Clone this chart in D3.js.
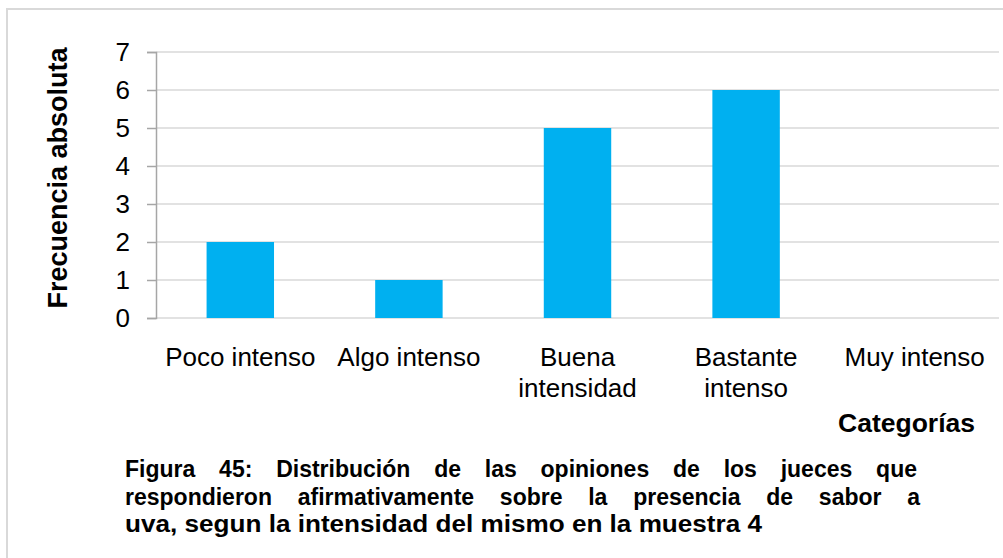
<!DOCTYPE html>
<html>
<head>
<meta charset="utf-8">
<script src="https://cdn.jsdelivr.net/npm/d3@7"></script>
<style>
  body { margin: 0; background: #fff; }
  svg { display: block; font-family: "Liberation Sans", Arial, sans-serif; }
</style>
</head>
<body>
<div class="chart"></div>
<script>
var w = 1003;
var h = 558;

// data
var categories = [["Poco intenso"], ["Algo intenso"], ["Buena", "intensidad"], ["Bastante", "intenso"], ["Muy intenso"]];
var values = [2, 1, 5, 6, 0];
var yTicks = [0, 1, 2, 3, 4, 5, 6, 7];
var titleLines = [
  "Figura 45: Distribución de las opiniones de los jueces que",
  "respondieron afirmativamente sobre la presencia de sabor a",
  "uva, segun la intensidad del mismo en la  muestra 4"
];

var plotLeft = 156, plotRight = 999, plotTop = 52, plotBottom = 318;

var svg = d3.select(".chart").append("svg")
  .attr("width", w)
  .attr("height", h);

// outer frame
svg.append("rect")
  .attr("x", 7).attr("y", 9)
  .attr("width", w + 20).attr("height", h + 20)
  .attr("fill", "none")
  .attr("stroke", "#d9d9d9")
  .attr("stroke-width", 2);

var xScale = d3.scaleBand()
  .domain(d3.range(categories.length))
  .range([plotLeft, plotRight])
  .paddingInner(0.6)
  .paddingOuter(0.3);

var yScale = d3.scaleLinear()
  .domain([0, 7])
  .range([plotBottom, plotTop]);

// gridlines
svg.selectAll("line.grid")
  .data(yTicks)
  .enter()
  .append("line")
  .attr("class", "grid")
  .attr("x1", plotLeft)
  .attr("x2", plotRight)
  .attr("y1", function(d) { return yScale(d); })
  .attr("y2", function(d) { return yScale(d); })
  .attr("stroke", "#d9d9d9")
  .attr("stroke-width", 1.5);

// y axis
var yAxis = d3.axisLeft(yScale)
  .tickValues(yTicks)
  .tickSize(9)
  .tickPadding(17)
  .tickFormat(d3.format("d"));

var yG = svg.append("g")
  .attr("transform", "translate(" + plotLeft + ",0)")
  .call(yAxis);
yG.select(".domain").attr("stroke", "#a6a6a6").attr("stroke-width", 1.5);
yG.selectAll(".tick line").attr("stroke", "#a6a6a6").attr("stroke-width", 1.5);
yG.selectAll(".tick text")
  .attr("fill", "#000")
  .style("font-size", "26px")
  .style("font-family", "'Liberation Sans', Arial, sans-serif");

// bars
svg.selectAll("rect.bar")
  .data(values)
  .enter()
  .append("rect")
  .attr("class", "bar")
  .attr("x", function(d, i) { return xScale(i); })
  .attr("width", xScale.bandwidth())
  .attr("y", function(d) { return yScale(d); })
  .attr("height", function(d) { return yScale(0) - yScale(d); })
  .attr("fill", "#00b0f0");

// category labels
var catLabels = svg.selectAll("text.cat")
  .data(categories)
  .enter()
  .append("text")
  .attr("class", "cat")
  .attr("text-anchor", "middle")
  .attr("x", function(d, i) { return xScale(i) + xScale.bandwidth() / 2; })
  .attr("y", 366)
  .style("font-size", "26px")
  .attr("fill", "#000");

catLabels.selectAll("tspan")
  .data(function(d) { return d; })
  .enter()
  .append("tspan")
  .attr("x", function() { return d3.select(this.parentNode).attr("x"); })
  .attr("dy", function(d, i) { return i == 0 ? 0 : 31; })
  .text(function(d) { return d; });

// axis titles
svg.append("text")
  .attr("text-anchor", "end")
  .attr("x", 975)
  .attr("y", 432)
  .style("font-size", "26.5px")
  .style("font-weight", "bold")
  .text("Categorías");

svg.append("text")
  .attr("text-anchor", "middle")
  .attr("transform", "translate(67,178) rotate(-90)")
  .style("font-size", "27px")
  .style("font-weight", "bold")
  .text("Frecuencia absoluta");

// figure caption: first two lines justified, last one condensed
var lineWidths = [792, 795, 637];
titleLines.forEach(function(t, i) {
  var txt = svg.append("text")
    .attr("x", 125)
    .attr("y", 477 + i * 27.5)
    .style("font-size", "23px")
    .style("font-weight", "bold")
    .text(t);
  var natural = txt.node().getComputedTextLength();
  if (i == titleLines.length - 1 || natural > lineWidths[i]) {
    txt.attr("textLength", lineWidths[i]).attr("lengthAdjust", "spacingAndGlyphs");
  } else {
    var spaces = t.split(" ").length - 1;
    txt.style("word-spacing", ((lineWidths[i] - natural) / spaces) + "px");
  }
});
</script>
</body>
</html>
